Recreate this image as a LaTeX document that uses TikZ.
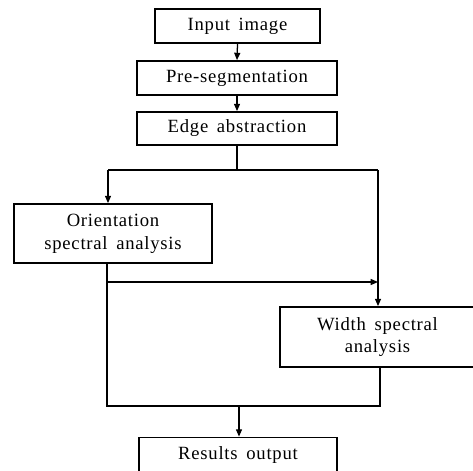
\documentclass[tikz,border=0pt]{standalone}
\usepackage{fontspec}
\setmainfont{Liberation Serif}[LetterSpace=4,WordSpace=1.6]
\usetikzlibrary{arrows.meta}
\begin{document}
\begin{tikzpicture}[x=0.75pt,y=-0.75pt,
  stepbox/.style={draw, line width=1.3pt, rectangle, inner sep=0pt, align=center,
    font=\fontsize{14pt}{17pt}\selectfont},
  conn/.style={line width=0.95pt},
  arr/.style={conn, -{Triangle[length=5.5pt,width=4.5pt]}}]
\useasboundingbox (0,0) rectangle (473,470);
\begin{scope}
\clip (0,0) rectangle (473,470);
\node[stepbox, minimum width=123.75pt, minimum height=25.5pt] (in) at (237.5,26) {Input image};
\node[stepbox, minimum width=150pt, minimum height=25.5pt] (pre) at (237,78) {Pre-segmentation};
\node[stepbox, minimum width=150pt, minimum height=24.75pt] (edge) at (237,128.5) {Edge abstraction};
\node[stepbox, minimum width=148.5pt, minimum height=44.25pt] (ori) at (113,233.5) {Orientation\\spectral analysis};
\node[stepbox, minimum width=146.25pt, minimum height=45pt] (wid) at (377.5,337) {Width spectral\\analysis};
\node[stepbox, minimum width=148.5pt, minimum height=26.25pt] (res) at (238,455) {Results output};

\coordinate (s1) at (237,170);
\coordinate (cl) at (108,170);
\coordinate (cr) at (378,170);
\coordinate (o1) at (107,263);
\coordinate (h1) at (107,282);
\coordinate (h2) at (378,282);
\coordinate (bl) at (107,406);
\coordinate (br) at (380,406);
\coordinate (w1) at (380,367);
\coordinate (m1) at (239,406);

\draw[arr] (in.south) -- (pre.north);
\draw[arr] (pre.south) -- (edge.north);
\draw[conn] (edge.south) -- (s1);
\draw[conn] (cl) -- (cr);
\draw[arr] (cl) -- (cl |- ori.north);
\draw[arr] (cr) -- (cr |- wid.north);
\draw[conn] (o1) -- (bl) -- (br) -- (w1);
\draw[arr] (h1) -- (h2);
\draw[arr] (m1) -- (m1 |- res.north);
\end{scope}
\end{tikzpicture}
\end{document}
